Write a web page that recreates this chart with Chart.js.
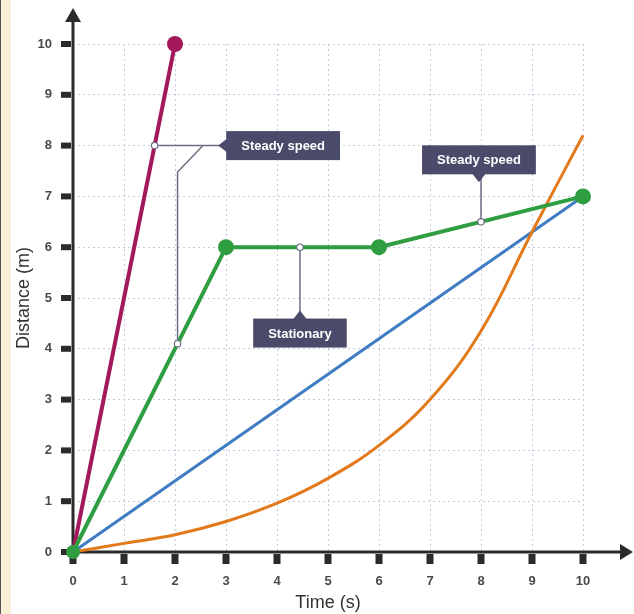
<!DOCTYPE html>
<html lang="en">
<head>
    <meta charset="UTF-8">
    <title>Distance-time graph</title>
    <script src="https://cdn.jsdelivr.net/npm/chart.js"></script>
    <style>
        html, body { margin: 0; padding: 0; background: #fff; }
        #wrap { width: 634px; height: 614px; position: relative; }
    </style>
</head>
<body>
    <div id="wrap"><canvas id="graph" width="634" height="614"></canvas></div>

    <script>
        // Data
        const axisTicks = [0, 1, 2, 3, 4, 5, 6, 7, 8, 9, 10];

        const fastTime = [0, 2];
        const fastDist = [0, 10];

        const stopTime = [0, 3, 6, 10];
        const stopDist = [0, 6, 6, 7];

        const slowTime = [0, 10];
        const slowDist = [0, 7];

        const accelTime = [0, 1, 2, 3, 4, 5, 6, 7, 8, 9, 10];
        const accelDist = [0, 0.17, 0.34, 0.6, 0.96, 1.45, 2.1, 3.0, 4.35, 6.3, 8.2];

        // Callouts: label, box centre (data units), side of the pointer, leader lines, small markers
        const calloutText = ['Steady speed', 'Steady speed', 'Stationary'];
        const calloutBoxX = [4.12, 7.96, 4.45];
        const calloutBoxY = [8, 7.72, 4.31];
        const calloutSide = ['left', 'bottom', 'top'];
        const calloutLeaders = [
            [[[1.6, 8], [3.0, 8]], [[2.05, 4.1], [2.05, 7.48], [2.55, 8]]],
            [[[8, 6.5], [8, 7.5]]],
            [[[4.45, 6], [4.45, 4.6]]]
        ];
        const calloutMarks = [[[1.6, 8], [2.05, 4.1]], [[8, 6.5]], [[4.45, 6]]];

        const PURPLE = '#a3195b';
        const GREEN = '#2f9e41';
        const BLUE = '#3f7cc2';
        const ORANGE = '#e27a1c';
        const INK = '#2b2b2b';
        const LEADER = '#6d6e86';
        const BOX = '#4a4b6b';

        function pts(xs, ys) {
            return xs.map((x, i) => ({ x: x, y: ys[i] }));
        }

        const overlay = {
            id: 'overlay',
            beforeDraw(chart) {
                const ctx = chart.ctx;
                ctx.save();
                ctx.fillStyle = '#fdf0d6';
                ctx.fillRect(0, 0, 11, chart.height);
                ctx.fillStyle = '#555';
                ctx.fillRect(0, 0, 1, chart.height);
                ctx.restore();
            },
            beforeDatasetsDraw(chart) {
                const ctx = chart.ctx;
                const xs = chart.scales.x, ys = chart.scales.y;
                const x0 = xs.getPixelForValue(0), y0 = ys.getPixelForValue(0);
                ctx.save();
                ctx.fillStyle = INK;
                // tick squares
                axisTicks.forEach(v => {
                    const py = ys.getPixelForValue(v);
                    ctx.fillRect(x0 - 12, py - 3, 10, 6);
                    const px = xs.getPixelForValue(v);
                    ctx.fillRect(px - 3.5, y0 + 2, 7, 10);
                });
                // axes
                ctx.strokeStyle = INK;
                ctx.lineWidth = 3;
                ctx.beginPath();
                ctx.moveTo(x0, y0 + 1.5);
                ctx.lineTo(x0, 20);
                ctx.moveTo(x0 - 1.5, y0);
                ctx.lineTo(chart.width - 12, y0);
                ctx.stroke();
                // arrow heads
                ctx.beginPath();
                ctx.moveTo(x0, 8);
                ctx.lineTo(x0 + 8, 22);
                ctx.lineTo(x0 - 8, 22);
                ctx.closePath();
                ctx.fill();
                ctx.beginPath();
                ctx.moveTo(chart.width - 1, y0);
                ctx.lineTo(chart.width - 14, y0 - 8);
                ctx.lineTo(chart.width - 14, y0 + 8);
                ctx.closePath();
                ctx.fill();
                ctx.restore();
            },
            afterDatasetsDraw(chart) {
                const ctx = chart.ctx;
                const xs = chart.scales.x, ys = chart.scales.y;
                const P = p => [xs.getPixelForValue(p[0]), ys.getPixelForValue(p[1])];
                ctx.save();
                ctx.font = 'bold 13px "Liberation Sans", Arial, sans-serif';
                calloutText.forEach((text, i) => {
                    // leader lines
                    ctx.strokeStyle = LEADER;
                    ctx.lineWidth = 1.5;
                    calloutLeaders[i].forEach(path => {
                        ctx.beginPath();
                        path.forEach((p, k) => {
                            const q = P(p);
                            if (k === 0) ctx.moveTo(q[0], q[1]); else ctx.lineTo(q[0], q[1]);
                        });
                        ctx.stroke();
                    });
                    // box with pointer
                    const c = P([calloutBoxX[i], calloutBoxY[i]]);
                    const w = ctx.measureText(text).width + 30;
                    const h = 29;
                    const l = c[0] - w / 2, t = c[1] - h / 2;
                    ctx.fillStyle = BOX;
                    ctx.fillRect(l, t, w, h);
                    ctx.beginPath();
                    if (calloutSide[i] === 'left') {
                        ctx.moveTo(l + 1, c[1] - 7);
                        ctx.lineTo(l - 8, c[1]);
                        ctx.lineTo(l + 1, c[1] + 7);
                    } else if (calloutSide[i] === 'bottom') {
                        ctx.moveTo(c[0] - 7, t + h - 1);
                        ctx.lineTo(c[0], t + h + 8);
                        ctx.lineTo(c[0] + 7, t + h - 1);
                    } else {
                        ctx.moveTo(c[0] - 7, t + 1);
                        ctx.lineTo(c[0], t - 8);
                        ctx.lineTo(c[0] + 7, t + 1);
                    }
                    ctx.closePath();
                    ctx.fill();
                    ctx.fillStyle = '#ffffff';
                    ctx.textAlign = 'center';
                    ctx.textBaseline = 'middle';
                    ctx.fillText(text, c[0], c[1] + 1);
                    // small open markers
                    calloutMarks[i].forEach(m => {
                        const q = P(m);
                        ctx.beginPath();
                        ctx.arc(q[0], q[1], 3.2, 0, Math.PI * 2);
                        ctx.fillStyle = '#ffffff';
                        ctx.fill();
                        ctx.strokeStyle = LEADER;
                        ctx.lineWidth = 1.2;
                        ctx.stroke();
                    });
                });
                ctx.restore();
            }
        };

        const gridOpts = {
            color: '#c6cadd',
            lineWidth: 1,
            drawTicks: false
        };
        const tickFont = { family: '"Liberation Sans", Arial, sans-serif', size: 13, weight: 'bold' };
        const titleFont = { family: '"Liberation Sans", Arial, sans-serif', size: 18 };

        new Chart(document.getElementById('graph'), {
            type: 'scatter',
            data: {
                datasets: [
                    {
                        label: 'Fast',
                        data: pts(fastTime, fastDist),
                        showLine: true,
                        clip: false,
                        borderColor: PURPLE,
                        backgroundColor: PURPLE,
                        borderWidth: 4,
                        pointRadius: [0, 8],
                        pointBorderWidth: 0,
                        order: 3
                    },
                    {
                        label: 'Slow',
                        data: pts(slowTime, slowDist),
                        showLine: true,
                        clip: false,
                        borderColor: BLUE,
                        backgroundColor: BLUE,
                        borderWidth: 3,
                        pointRadius: 0,
                        order: 4
                    },
                    {
                        label: 'Accelerating',
                        data: pts(accelTime, accelDist),
                        showLine: true,
                        clip: false,
                        borderColor: ORANGE,
                        backgroundColor: ORANGE,
                        borderWidth: 3,
                        pointRadius: 0,
                        tension: 0.4,
                        order: 2
                    },
                    {
                        label: 'Stop and go',
                        data: pts(stopTime, stopDist),
                        showLine: true,
                        clip: false,
                        borderColor: GREEN,
                        backgroundColor: GREEN,
                        borderWidth: 4,
                        pointRadius: [7, 8, 8, 8],
                        pointBorderWidth: 0,
                        order: 1
                    }
                ]
            },
            options: {
                responsive: false,
                animation: false,
                events: [],
                layout: { padding: { top: 44, right: 51, left: 0, bottom: 0 } },
                plugins: {
                    legend: { display: false },
                    tooltip: { enabled: false }
                },
                scales: {
                    x: {
                        type: 'linear',
                        min: 0,
                        max: 10,
                        afterFit: s => { s.height = 62; },
                        grid: gridOpts,
                        border: { display: false, dash: [2, 3] },
                        ticks: { stepSize: 1, padding: 22, color: '#4a4a4a', font: tickFont },
                        title: { display: true, text: 'Time (s)', color: '#333', font: titleFont, padding: { top: 0, bottom: 0 } }
                    },
                    y: {
                        type: 'linear',
                        min: 0,
                        max: 10,
                        afterFit: s => { s.width = 73; },
                        grid: gridOpts,
                        border: { display: false, dash: [2, 3] },
                        ticks: { stepSize: 1, padding: 21, color: '#4a4a4a', font: tickFont },
                        title: { display: true, text: 'Distance (m)', color: '#333', font: titleFont, padding: { top: 13, bottom: 0 } }
                    }
                }
            },
            plugins: [overlay]
        });
    </script>
</body>
</html>
